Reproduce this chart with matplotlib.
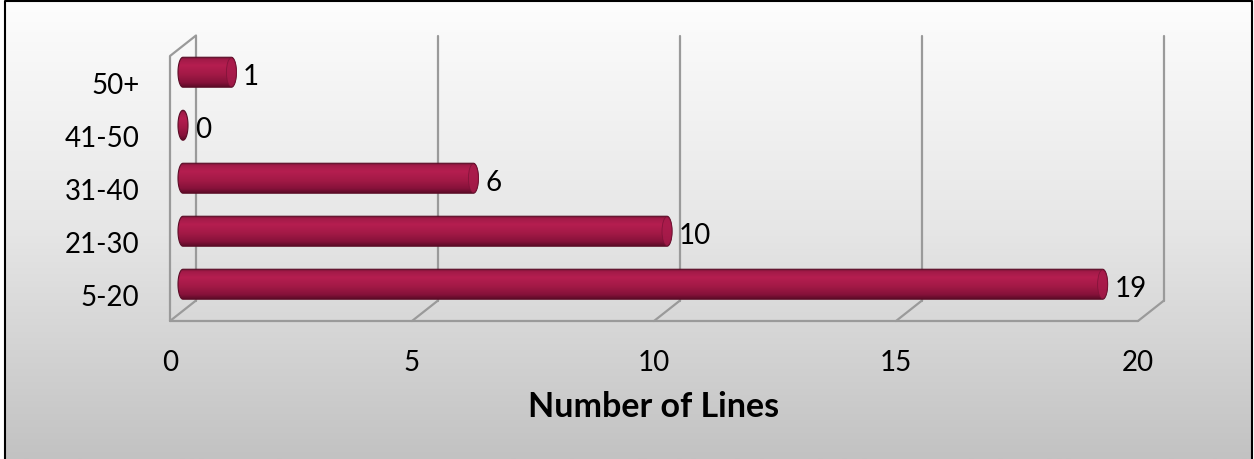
import numpy as np
import matplotlib.pyplot as plt
from matplotlib.colors import LinearSegmentedColormap
from matplotlib.path import Path
from matplotlib.patches import PathPatch, Ellipse

plt.rcParams['font.family'] = ['Lato', 'DejaVu Sans']

categories = ['5-20', '21-30', '31-40', '41-50', '50+']
values = [19, 10, 6, 0, 1]
xticks = [0, 5, 10, 15, 20]
xlabel = 'Number of Lines'

W, H = 1254, 460
fig = plt.figure(figsize=(W / 100, H / 100), dpi=100)

# background panel: white-to-grey gradient with a black frame
bg = fig.add_axes([0, 0, 1, 1], zorder=0)
bg.set_xlim(0, W)
bg.set_ylim(H, 0)
bg.axis('off')
grad = np.linspace(0, 1, 256).reshape(-1, 1)
bg_cmap = LinearSegmentedColormap.from_list('bg', ['#fdfdfd', '#e6e6e6', '#c2c2c2'])
bg.imshow(grad, cmap=bg_cmap, extent=[5, 1252, H, 2], aspect='auto')
bg.plot([5, 5, 1252, 1252], [H, 2, 2, H], color='black', lw=1.5)

# plot area = front plane of the 3d box
left, right, top, bottom = 170, 1138, 57, 322
ax = fig.add_axes([left / W, 1 - bottom / H, (right - left) / W, (bottom - top) / H], zorder=1)
ax.patch.set_alpha(0)
for s in ax.spines.values():
    s.set_visible(False)

pxx = (right - left) / 20.0
pxy = (bottom - top) / 5.0
dx = 26 / pxx
dy = 20.5 / pxy

grid_kw = dict(color='#9a9a9a', lw=1.6, clip_on=False, zorder=1, solid_capstyle='round')
for t in xticks:
    ax.plot([t + dx, t + dx], [-0.5 + dy, 4.5 + dy], **grid_kw)
    ax.plot([t, t + dx], [-0.5, -0.5 + dy], **grid_kw)
ax.plot([0, 20], [-0.5, -0.5], **grid_kw)
ax.plot([0, 0, dx], [-0.5, 4.5, 4.5 + dy], **grid_kw)

# cylinder bars
bar_cmap = LinearSegmentedColormap.from_list(
    'cyl', [(0.0, '#5c0b27'), (0.15, '#86123a'), (0.45, '#a51a47'),
            (0.72, '#b51e50'), (0.92, '#a21a48'), (1.0, '#6e1030')])
bh = 30 / pxy
a = 5 / pxx
x0 = dx / 2
theta = np.linspace(np.pi / 2, 3 * np.pi / 2, 40)
for i, v in enumerate(values):
    yc = i + dy / 2
    xl, xr = x0, x0 + v
    lx = xl + a * np.cos(theta)
    ly = yc + bh / 2 * np.sin(theta)
    rx = xr + a * np.cos(theta - np.pi)
    ry = yc + bh / 2 * np.sin(theta - np.pi)
    pts = np.vstack([np.column_stack([lx, ly]), np.column_stack([rx, ry]), [[lx[0], ly[0]]]])
    body = PathPatch(Path(pts, closed=True), facecolor='none', edgecolor='#5a0c26',
                     lw=0.8, zorder=3)
    ax.add_patch(body)
    img = ax.imshow(grad, cmap=bar_cmap, origin='lower', aspect='auto', zorder=2,
                    extent=[xl - a, xr + a, yc - bh / 2, yc + bh / 2])
    img.set_clip_path(body)
    if v > 0:
        cap = Ellipse((xr, yc), 2 * a, bh * 0.96, facecolor='#a81b4b', edgecolor='#7a1236',
                      lw=0.6, alpha=0.8, zorder=4)
        ax.add_patch(cap)
    ax.text(xr + a + 0.14, yc - 0.08, str(v), ha='left', va='center', fontsize=20, zorder=5)

ax.set_xlim(0, 20)
ax.set_ylim(-0.5, 4.5)
ax.set_xticks(xticks)
ax.set_xticklabels([str(t) for t in xticks], fontsize=20)
ax.set_yticks(range(len(categories)))
ax.set_yticklabels(categories, fontsize=20)
ax.tick_params(axis='x', length=0, pad=20)
ax.tick_params(axis='y', length=0, pad=22)
ax.set_xlabel(xlabel, fontsize=24.5, fontweight='bold', labelpad=11)

fig.savefig('out.png', dpi=100)
